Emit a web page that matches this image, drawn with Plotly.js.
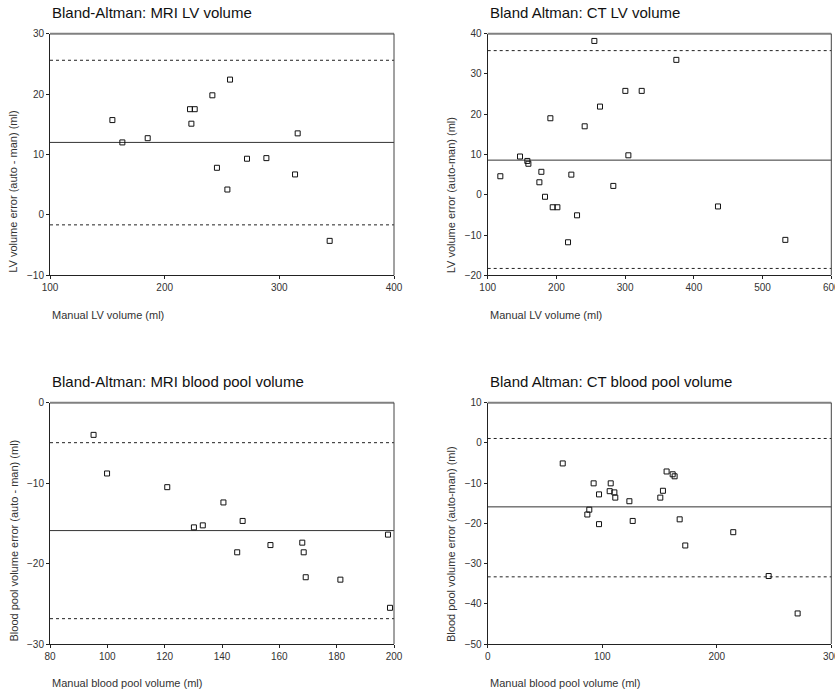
<!DOCTYPE html>
<html>
<head>
<meta charset="utf-8">
<script src="https://cdn.plot.ly/plotly-3.0.1.min.js"></script>
<style>html,body{margin:0;padding:0;background:#fff;}#chart{width:835px;height:696px;}</style>
</head>
<body>
<div id="chart"></div>
<script>
// Panel 1: MRI LV volume
const mriLvX = [154.4, 163.1, 185.2, 222.1, 226.2, 223.3, 241.6, 257.0, 245.6, 254.7, 271.8, 288.7, 316.0, 313.7, 343.9];
const mriLvY = [15.7, 12.0, 12.7, 17.5, 17.5, 15.1, 19.8, 22.4, 7.8, 4.2, 9.3, 9.4, 13.5, 6.7, -4.3];
const mriLvLines = {mean: 12.0, upper: 25.6, lower: -1.65};

// Panel 2: CT LV volume
const ctLvX = [118.4, 147.0, 157.7, 159.2, 178.1, 175.2, 183.4, 191.2, 194.6, 201.4, 216.9, 221.7, 230.0, 241.1, 255.2, 263.4, 282.8, 300.3, 304.7, 324.1, 374.5, 435.1, 533.1];
const ctLvY = [4.6, 9.5, 8.4, 7.7, 5.7, 3.1, -0.5, 19.0, -3.1, -3.1, -11.8, 5.0, -5.1, 17.0, 38.2, 21.9, 2.2, 25.8, 9.8, 25.8, 33.5, -2.9, -11.2];
const ctLvLines = {mean: 8.6, upper: 35.8, lower: -18.3};

// Panel 3: MRI blood pool volume
const mriBpX = [95.2, 99.9, 120.9, 140.5, 130.2, 133.3, 147.2, 145.3, 156.9, 168.0, 168.5, 169.2, 181.3, 197.9, 198.6];
const mriBpY = [-4.0, -8.8, -10.5, -12.4, -15.5, -15.25, -14.7, -18.6, -17.7, -17.4, -18.6, -21.7, -22.0, -16.4, -25.5];
const mriBpLines = {mean: -15.9, upper: -4.97, lower: -26.85};

// Panel 4: CT blood pool volume
const ctBpX = [65.5, 92.5, 97.2, 107.4, 106.5, 110.6, 111.4, 87.0, 88.7, 97.2, 123.7, 126.6, 150.7, 153.0, 156.2, 161.5, 163.2, 167.6, 172.5, 214.4, 245.3, 270.6];
const ctBpY = [-5.1, -10.05, -12.8, -10.05, -12.0, -12.3, -13.6, -17.8, -16.6, -20.2, -14.5, -19.4, -13.6, -11.9, -7.1, -7.8, -8.3, -19.0, -25.5, -22.2, -33.1, -42.4];
const ctBpLines = {mean: -15.9, upper: 1.1, lower: -33.3};

const titles = ["Bland-Altman: MRI LV volume", "Bland Altman: CT LV volume", "Bland-Altman: MRI blood pool volume", "Bland Altman: CT blood pool volume"];
const xTitles = ["Manual LV volume (ml)", "Manual LV volume (ml)", "Manual blood pool volume (ml)", "Manual blood pool volume (ml)"];
const yTitles = ["LV volume error (auto - man) (ml)", "LV volume error (auto-man) (ml)", "Blood pool volume error (auto - man) (ml)", "Blood pool volume error (auto-man) (ml)"];
const xRanges = [[100, 400], [100, 600], [80, 200], [0, 300]];
const yRanges = [[-10, 30], [-20, 40], [-30, 0], [-50, 10]];
const xDticks = [100, 100, 20, 100];
const yDticks = [10, 10, 10, 10];

const W = 835, H = 696;
const px = v => v / W;
const py = v => 1 - v / H;
// plot areas in pixels: [left, right, top, bottom]
const boxes = [
  [50, 394, 33.7, 275.3],
  [487.7, 831.3, 33.7, 275.3],
  [50, 394, 402.7, 644],
  [487.7, 831.3, 402.7, 644]
];
const titleY = [12, 12, 381.5, 381.5];
const xTitleY = [315, 315, 683, 683];
const yTitleX = [13.5, 451, 13.5, 451];

const panels = [
  [mriLvX, mriLvY, mriLvLines],
  [ctLvX, ctLvY, ctLvLines],
  [mriBpX, mriBpY, mriBpLines],
  [ctBpX, ctBpY, ctBpLines]
];

const FONT = '"Liberation Sans", Arial, sans-serif';
const data = [];
const shapes = [];
const annotations = [];
const layout = {
  width: W, height: H,
  margin: {l: 0, r: 0, t: 0, b: 0},
  paper_bgcolor: '#fff', plot_bgcolor: '#fff',
  showlegend: false,
  font: {family: FONT, color: '#333'}
};

panels.forEach((p, i) => {
  const n = i + 1;
  const xa = n === 1 ? 'x' : 'x' + n;
  const ya = n === 1 ? 'y' : 'y' + n;
  const b = boxes[i];
  data.push({
    type: 'scatter', mode: 'markers', x: p[0], y: p[1], xaxis: xa, yaxis: ya,
    marker: {symbol: 'square-open', size: 5, color: '#111', line: {width: 1, color: '#111'}},
    hoverinfo: 'x+y'
  });
  const axCommon = {
    showgrid: false, zeroline: false, showline: true, linecolor: '#222', linewidth: 1,
    ticks: 'outside', ticklen: 3, tickcolor: '#222', tickwidth: 1,
    ticklabeloverflow: 'allow',
    tickfont: {family: FONT, size: 10, color: '#333'}, fixedrange: true
  };
  layout['xaxis' + (n === 1 ? '' : n)] = Object.assign({}, axCommon, {
    domain: [px(b[0]), px(b[1])], range: xRanges[i], dtick: xDticks[i], tick0: 0,
    anchor: ya
  });
  layout['yaxis' + (n === 1 ? '' : n)] = Object.assign({}, axCommon, {
    domain: [py(b[3]), py(b[2])], range: yRanges[i], dtick: yDticks[i], tick0: 0,
    anchor: xa
  });
  const L = p[2];
  [['mean', 'solid', '#333'], ['upper', '3px,3px', '#222'], ['lower', '3px,3px', '#222']].forEach(([k, dash, col]) => {
    shapes.push({type: 'line', xref: xa + ' domain', yref: ya, x0: 0, x1: 1, y0: L[k], y1: L[k],
      line: {color: col, width: 1, dash: dash}, layer: 'below'});
  });
  // top frame (gray, heavier) and right frame
  shapes.push({type: 'line', xref: xa + ' domain', yref: ya + ' domain', x0: 0, x1: 1, y0: 1, y1: 1,
    line: {color: '#808080', width: 2}});
  shapes.push({type: 'line', xref: xa + ' domain', yref: ya + ' domain', x0: 1, x1: 1, y0: 0, y1: 1,
    line: {color: '#444', width: 1}});
  annotations.push({text: titles[i], xref: 'paper', yref: 'paper', x: px(b[0]), y: py(titleY[i]),
    xanchor: 'left', yanchor: 'middle', showarrow: false, font: {family: FONT, size: 15, color: '#111'}});
  annotations.push({text: xTitles[i], xref: 'paper', yref: 'paper', x: px(b[0]), y: py(xTitleY[i]),
    xanchor: 'left', yanchor: 'middle', showarrow: false, font: {family: FONT, size: 11, color: '#333'}});
  annotations.push({text: yTitles[i], xref: 'paper', yref: 'paper', x: px(yTitleX[i]), y: py(b[3]),
    xanchor: 'center', yanchor: 'bottom', textangle: -90, showarrow: false, font: {family: FONT, size: 11, color: '#333'}});
});
layout.shapes = shapes;
layout.annotations = annotations;

Plotly.newPlot('chart', data, layout, {displayModeBar: false, staticPlot: true});
</script>
</body>
</html>
